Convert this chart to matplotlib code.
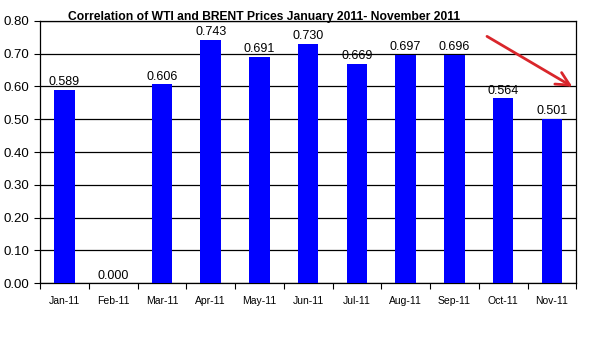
import matplotlib.pyplot as plt
import numpy as np

plt.rcParams['font.family'] = ['Liberation Sans', 'DejaVu Sans']

months = ["Jan-11", "Feb-11", "Mar-11", "Apr-11", "May-11", "Jun-11",
          "Jul-11", "Aug-11", "Sep-11", "Oct-11", "Nov-11"]
correlation = [0.589, 0.000, 0.606, 0.743, 0.691, 0.730,
               0.669, 0.697, 0.696, 0.564, 0.501]
y_ticks = [0.0, 0.1, 0.2, 0.3, 0.4, 0.5, 0.6, 0.7, 0.8]

fig = plt.figure(figsize=(5.99, 3.42), dpi=100)
ax = fig.add_axes([0.067, 0.172, 0.895, 0.767])

x = np.arange(len(months))
ax.bar(x, correlation, width=0.42, color="#0000ff", zorder=3)

for xi, v in zip(x, correlation):
    ax.text(xi, v + 0.005, f"{v:.3f}", ha="center", va="bottom", fontsize=9, zorder=4)

ax.set_xlim(-0.5, len(months) - 0.5)
ax.set_ylim(0, 0.8)
ax.set_yticks(y_ticks)
ax.set_yticklabels([f"{t:.2f}" for t in y_ticks], fontsize=9.5)
ax.yaxis.grid(True, color="black", linewidth=0.9, zorder=0)

# category labels sit between the boundary tick marks
ax.set_xticks(np.arange(-0.5, len(months), 1.0))
ax.set_xticklabels([])
ax.set_xticks(x, minor=True)
ax.set_xticklabels(months, minor=True, fontsize=7.5)
ax.tick_params(axis="x", which="minor", length=0, pad=9)
ax.tick_params(axis="x", which="major", length=4, direction="out")
ax.tick_params(axis="y", length=4, direction="out")

for spine in ax.spines.values():
    spine.set_linewidth(0.9)

ax.set_title("Correlation of WTI and BRENT Prices January 2011- November 2011",
             fontsize=8.7, fontweight="bold", x=0.418, y=1.0, pad=0.5)

# downward trend arrow
ax.annotate("", xy=(10.47, 0.595), xytext=(8.62, 0.757),
            arrowprops=dict(arrowstyle="->", color="#d9262b", lw=2,
                            mutation_scale=24),
            annotation_clip=False, zorder=5)

fig.savefig("out.png", dpi=100)
